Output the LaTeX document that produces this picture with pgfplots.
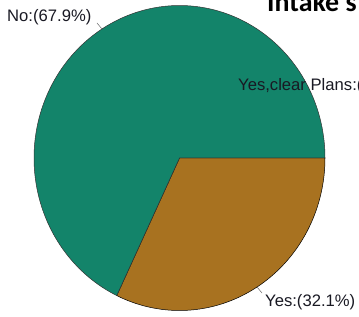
\documentclass[border=0pt]{standalone}
\usepackage{pgfplots}
\usepackage{pgfplotstable}
\pgfplotsset{compat=1.18}
\usepackage{fontspec}
\setmainfont{Liberation Sans}
\newfontfamily\titlefont{Carlito}
\definecolor{pgreen}{RGB}{19,132,106}
\definecolor{pbrown}{RGB}{168,114,32}
\definecolor{ptext}{RGB}{25,25,35}

\pgfplotstableread{
label value
Yes 32.1
No 67.9
Clear 0
}\piedata

\begin{document}%
\begin{tikzpicture}
\pgfplotstablegetelem{0}{value}\of\piedata \pgfmathsetmacro\vYes{\pgfplotsretval}
\pgfplotstablegetelem{1}{value}\of\piedata \pgfmathsetmacro\vNo{\pgfplotsretval}
\pgfmathsetmacro\aYes{-3.6*\vYes}
\pgfmathsetmacro\aNo{\aYes-3.6*\vNo}
\begin{axis}[
  scale only axis, width=359bp, height=317bp,
  xmin=0, xmax=359, ymin=0, ymax=317,
  enlargelimits=false,
  hide axis, clip=false,
]
\coordinate (bl) at (axis cs:0,0);
\coordinate (tr) at (axis cs:359,317);
% Yes slice
\addplot[fill=pbrown, draw=black, line width=0.5pt, domain=0:\aYes, samples=90]
  ({179.5+145.5*cos(x)},{159+152.5*sin(x)}) -- (axis cs:179.5,159) -- cycle;
% No slice
\addplot[fill=pgreen, draw=black!80, line width=0.5pt, domain=\aYes:\aNo, samples=150]
  ({179.5+145.5*cos(x)},{159+152.5*sin(x)}) -- (axis cs:179.5,159) -- cycle;
% leader lines
\addplot[draw=black!60, line width=0.5pt, no marks] coordinates {(102,288) (97,294)};
\addplot[draw=black!60, line width=0.5pt, no marks] coordinates {(257,30) (262,24)};
% labels
\node[anchor=base west, inner sep=0pt, text=ptext, font=\fontsize{16.7}{18}\selectfont] at (axis cs:7,295.5) {No:(67.9\%)};
\node[anchor=base west, inner sep=0pt, text=ptext, font=\fontsize{16.7}{18}\selectfont] at (axis cs:265,10.5) {Yes:(32.1\%)};
\node[anchor=base west, inner sep=0pt, text=ptext, font=\fontsize{16.7}{18}\selectfont] at (axis cs:238,226) {Yes,clear Plans:(};
\node[anchor=base west, inner sep=0pt, text=black, font=\titlefont\bfseries\fontsize{28}{30}\selectfont] at (axis cs:267,305) {Intake s};
\end{axis}
\pgfresetboundingbox
\useasboundingbox (bl) rectangle (tr);
\end{tikzpicture}%
\end{document}
